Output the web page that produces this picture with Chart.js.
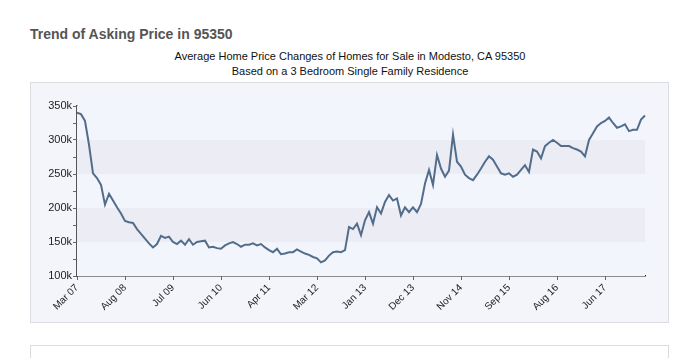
<!DOCTYPE html>
<html>
<head>
<meta charset="utf-8">
<script src="https://cdn.jsdelivr.net/npm/chart.js@4/dist/chart.umd.min.js"></script>
<style>
  html, body { margin:0; padding:0; background:#fff; width:696px; height:358px; overflow:hidden; }
  #title { position:absolute; left:30px; top:26px; font:bold 14px "Liberation Sans", Arial, sans-serif; color:#555; }
  #sub { position:absolute; left:0; width:700px; top:49px; text-align:center; font:11px "Liberation Sans", Arial, sans-serif; color:#111; line-height:14.5px; }
  #panel { position:absolute; left:30px; top:82px; width:637px; height:239px; background:#f4f5fb; border:1px solid #dcdde2; }
  #below { position:absolute; left:30px; top:345px; width:637px; height:40px; background:#fff; border:1px solid #dcdcdc; }
  #wrap { position:absolute; left:30px; top:82px; width:638px; height:240px; }
</style>
</head>
<body>
<div id="title">Trend of Asking Price in 95350</div>
<div id="sub">Average Home Price Changes of Homes for Sale in Modesto, CA 95350<br>Based on a 3 Bedroom Single Family Residence</div>
<div id="panel"></div>
<div id="below"></div>
<div id="wrap"><canvas id="c" width="638" height="240"></canvas></div>
<script>
// Tick labels shown every 12 points along the category axis
const tickLabels = ['Mar 07','Aug 08','Jul 09','Jun 10','Apr 11','Mar 12','Jan 13','Dec 13','Nov 14','Sep 15','Aug 16','Jun 17'];
const tickEvery = 12;
// Average asking price (thousands of dollars)
const prices = [
  340,338,328,293,251,244,234,205,221,211,201,192,181,179,178,169,162,155,148,142,147,159,156,158,
  150,147,152,146,154,146,150,151,152,142,143,141,140,145,148,150,147,143,146,146,148,145,147,142,
  138,135,140,132,133,135,135,139,136,133,131,128,126,120,123,130,135,136,135,138,172,169,177,160,
  182,194,177,201,192,209,219,211,214,189,201,194,201,194,206,236,256,234,278,258,246,255,308,268,
  261,249,244,241,249,258,268,276,271,261,251,249,251,246,249,256,263,253,286,283,273,291,296,300,
  296,291,291,291,288,286,283,276,300,310,320,325,328,333,325,318,320,323,313,315,315,330,336
];
const yBands = [[250,300],[150,200]];
const categories = prices.map((_, i) => (i % tickEvery === 0 && tickLabels[i / tickEvery]) ? tickLabels[i / tickEvery] : '');

const bandPlugin = {
  id: 'bands',
  beforeDatasetsDraw(chart) {
    const {ctx, chartArea, scales} = chart;
    ctx.save();
    ctx.fillStyle = '#f3f5fc';
    ctx.fillRect(chartArea.left, chartArea.top, chartArea.right - chartArea.left, chartArea.bottom - chartArea.top);
    ctx.fillStyle = '#ecedf4';
    yBands.forEach(([a, b]) => {
      const y1 = scales.y.getPixelForValue(b * 1000);
      const y2 = scales.y.getPixelForValue(a * 1000);
      ctx.fillRect(chartArea.left, y1, chartArea.right - chartArea.left, y2 - y1);
    });
    ctx.restore();
  }
};

new Chart(document.getElementById('c'), {
  type: 'line',
  data: {
    labels: categories,
    datasets: [{
      data: prices.map(v => v * 1000),
      borderColor: '#526d8c',
      borderWidth: 2,
      pointRadius: 0,
      tension: 0,
      fill: false
    }]
  },
  options: {
    responsive: false,
    animation: false,
    events: [],
    layout: { padding: { left: 0, right: 23, top: 24, bottom: 0 } },
    plugins: { legend: { display: false }, tooltip: { enabled: false }, title: { display: false } },
    scales: {
      x: {
        type: 'category',
        offset: false,
        border: { display: true, color: '#222', width: 1.5 },
        grid: {
          display: true, drawOnChartArea: false, drawTicks: true, tickLength: 4, color: '#666'
        },
        ticks: {
          autoSkip: false, minRotation: 45, maxRotation: 45, padding: 2,
          color: '#222', font: { family: '"Liberation Sans", Arial, sans-serif', size: 10 },
          callback: function(val, idx) { return categories[idx] ? categories[idx] : null; }
        },
        afterFit(scale) { scale.height = 46; }
      },
      y: {
        min: 100000, max: 350000,
        border: { display: true, color: '#555', width: 1.5 },
        grid: { display: true, drawOnChartArea: false, drawTicks: true, tickLength: 4, color: '#666' },
        ticks: {
          stepSize: 25000, padding: 1,
          color: '#222', font: { family: '"Liberation Sans", Arial, sans-serif', size: 11 },
          callback: v => (v % 50000 === 0) ? (v / 1000) + 'k' : ''
        },
        afterFit(scale) { scale.width = 47; }
      }
    }
  },
  plugins: [bandPlugin]
});
</script>
</body>
</html>
